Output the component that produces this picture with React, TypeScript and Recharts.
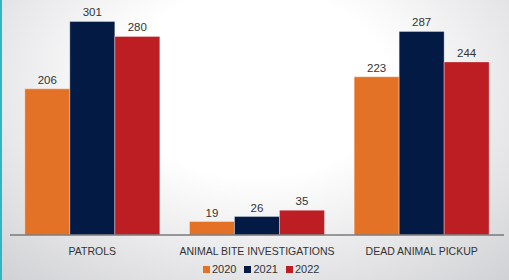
import { Bar, BarChart, LabelList, XAxis, YAxis } from "recharts";

document.body.style.margin = "0";

const categories = ["PATROLS", "ANIMAL BITE INVESTIGATIONS", "DEAD ANIMAL PICKUP"];
const values2020 = [206, 19, 223];
const values2021 = [301, 26, 287];
const values2022 = [280, 35, 244];

const series = [
  { key: "y2020", name: "2020", color: "#E37126" },
  { key: "y2021", name: "2021", color: "#031A45" },
  { key: "y2022", name: "2022", color: "#BC1E24" },
];

const data = categories.map((name, i) => ({
  name,
  y2020: values2020[i],
  y2021: values2021[i],
  y2022: values2022[i],
}));

const textColor = "#333";

export default function App() {
  return (
    <div
      style={{
        position: "relative",
        width: 509,
        height: 280,
        background: "radial-gradient(ellipse 75% 95% at 50% 30%, #ffffff 35%, #d0d1d4 100%)",
        borderLeft: "2px solid #2bb7c8",
        boxSizing: "border-box",
        fontFamily: "'Liberation Sans', Arial, sans-serif",
      }}
    >
      <BarChart
        width={507}
        height={280}
        data={data}
        margin={{ top: 8, right: 5, left: 8, bottom: 0 }}
        barCategoryGap="9%"
        barGap={0}
      >
        <YAxis hide domain={[0, 320]} />
        <XAxis
          dataKey="name"
          height={45}
          tickLine={false}
          axisLine={{ stroke: "#7a7a7a", strokeWidth: 1.5 }}
          tick={{ fill: textColor, fontSize: 10.5, fontFamily: "'Liberation Sans Narrow', 'Liberation Sans', sans-serif" }}
          tickMargin={7}
          interval={0}
        />
        {series.map((s) => (
          <Bar
            key={s.key}
            dataKey={s.key}
            name={s.name}
            fill={s.color}
            stroke="rgba(255,255,255,0.35)"
            strokeWidth={1}
            isAnimationActive={false}
          >
            <LabelList
              dataKey={s.key}
              position="top"
              fill={textColor}
              fontSize={11.5}
              fontFamily="'Liberation Sans', Arial, sans-serif"
            />
          </Bar>
        ))}
      </BarChart>
      <div
        style={{
          position: "absolute",
          left: 201,
          top: 262,
          display: "flex",
          gap: 8,
          fontSize: 11,
          color: textColor,
          lineHeight: "14px",
        }}
      >
        {series.map((s) => (
          <div key={s.key} style={{ display: "flex", alignItems: "center", gap: 2 }}>
            <span style={{ width: 7, height: 7, background: s.color, display: "inline-block" }} />
            <span>{s.name}</span>
          </div>
        ))}
      </div>
    </div>
  );
}
